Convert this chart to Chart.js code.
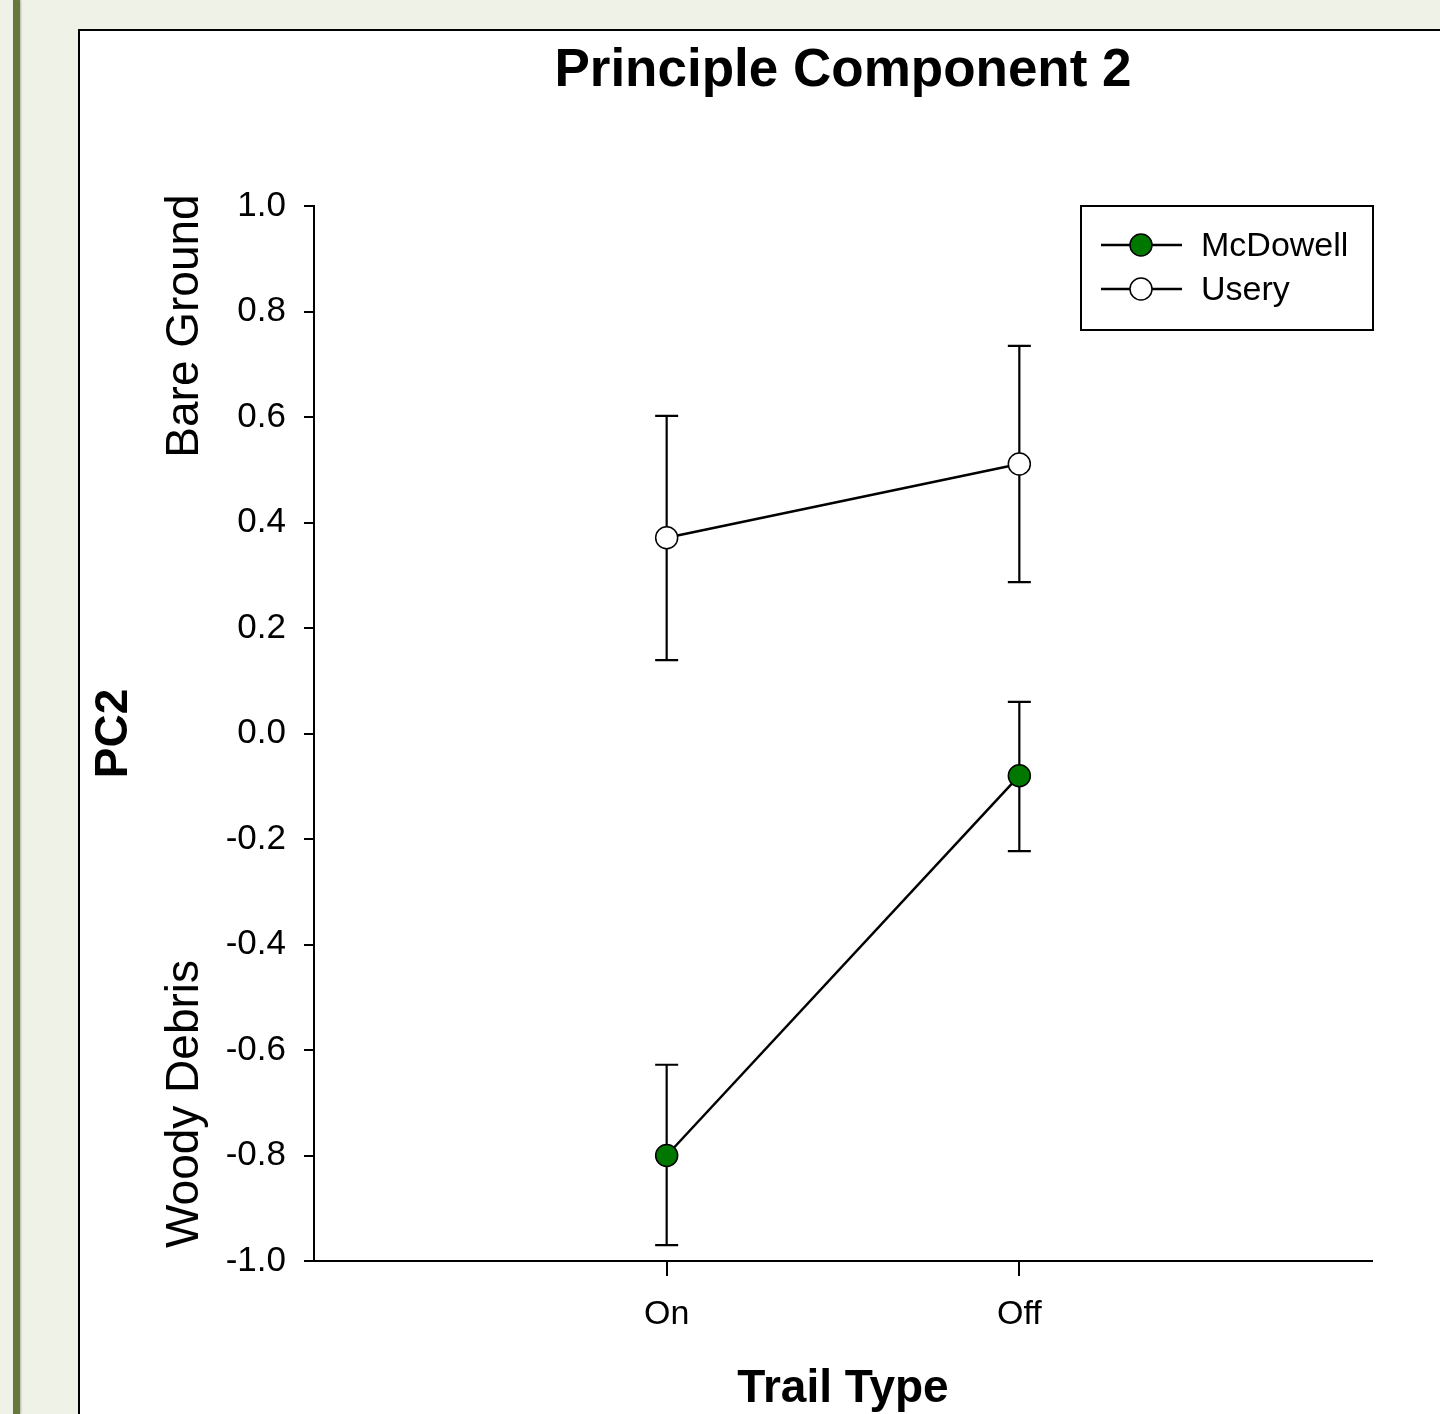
<!DOCTYPE html>
<html>
<head>
<meta charset="utf-8">
<script src="https://cdn.jsdelivr.net/npm/chart.js@4.4.1/dist/chart.umd.min.js"></script>
<style>
  html, body { margin: 0; padding: 0; width: 1440px; height: 1414px; overflow: hidden; background: #eef2e7; }
  #bar { position: absolute; left: 13px; top: 0; width: 7px; height: 1414px; background: #66793a; box-shadow: 1px 0 2px rgba(0,0,0,0.25); }
  #panel { position: absolute; left: 78px; top: 29px; width: 1400px; height: 1420px; background: #fff; border: 2px solid #000; }
  #wrap { position: absolute; left: 0; top: 0; width: 1440px; height: 1414px; }
</style>
</head>
<body>
<div id="bar"></div>
<div id="panel"></div>
<div id="wrap"><canvas id="c" width="1440" height="1414"></canvas></div>
<script>
const chartTitle = 'Principle Component 2';
const yTitle = 'PC2';
const xTitle = 'Trail Type';
const yUpperNote = 'Bare Ground';
const yLowerNote = 'Woody Debris';
const categories = ['On', 'Off'];
const seriesNames = ['McDowell', 'Usery'];
const mcdowellMean = [-0.80, -0.08];
const mcdowellUpper = [-0.628, 0.06];
const mcdowellLower = [-0.970, -0.223];
const useryMean = [0.371, 0.511];
const useryUpper = [0.602, 0.735];
const useryLower = [0.139, 0.287];
const yMin = -1.0, yMax = 1.0, yStep = 0.2;

const FONT = "'Liberation Sans', Arial, sans-serif";
const green = '#007800';

function pts(means) { return categories.map((c, i) => ({ x: i + 1, y: means[i] })); }

const errorBars = [
  { upper: mcdowellUpper, lower: mcdowellLower },
  { upper: useryUpper, lower: useryLower }
];

const extrasPlugin = {
  id: 'extras',
  beforeDatasetsDraw(chart) {
    const ctx = chart.ctx, xs = chart.scales.x, ys = chart.scales.y;
    ctx.save();
    ctx.strokeStyle = '#000';
    ctx.lineWidth = 2.2;
    errorBars.forEach(eb => {
      categories.forEach((c, i) => {
        const px = xs.getPixelForValue(i + 1);
        const pu = ys.getPixelForValue(eb.upper[i]);
        const pl = ys.getPixelForValue(eb.lower[i]);
        ctx.beginPath();
        ctx.moveTo(px, pu); ctx.lineTo(px, pl);
        ctx.moveTo(px - 11.5, pu); ctx.lineTo(px + 11.5, pu);
        ctx.moveTo(px - 11.5, pl); ctx.lineTo(px + 11.5, pl);
        ctx.stroke();
      });
    });
    ctx.restore();
  },
  afterDraw(chart) {
    const ctx = chart.ctx, area = chart.chartArea;
    ctx.save();
    // chart title
    ctx.fillStyle = '#000';
    ctx.font = 'bold 53px ' + FONT;
    ctx.textAlign = 'center';
    ctx.textBaseline = 'middle';
    ctx.fillText(chartTitle, (area.left + area.right) / 2, 71);
    // side notes
    ctx.font = '46px ' + FONT;
    ctx.save();
    ctx.translate(185, 326); ctx.rotate(-Math.PI / 2);
    ctx.fillText(yUpperNote, 0, 0);
    ctx.restore();
    ctx.save();
    ctx.translate(185, 1104); ctx.rotate(-Math.PI / 2);
    ctx.fillText(yLowerNote, 0, 0);
    ctx.restore();
    // legend
    ctx.lineWidth = 2;
    ctx.strokeStyle = '#000';
    ctx.strokeRect(1081, 206, 292, 124);
    chart.data.datasets.forEach((ds, i) => {
      const y = 245 + i * 44;
      ctx.beginPath();
      ctx.moveTo(1101, y); ctx.lineTo(1182, y);
      ctx.lineWidth = 2.5;
      ctx.stroke();
      ctx.beginPath();
      ctx.arc(1141, y, 11, 0, Math.PI * 2);
      ctx.fillStyle = ds.pointBackgroundColor;
      ctx.fill();
      ctx.lineWidth = 1.5;
      ctx.stroke();
      ctx.fillStyle = '#000';
      ctx.font = '34px ' + FONT;
      ctx.textAlign = 'left';
      ctx.textBaseline = 'middle';
      ctx.fillText(ds.label, 1201, y + 2);
    });
    ctx.restore();
  }
};

new Chart(document.getElementById('c'), {
  type: 'line',
  data: {
    datasets: [
      {
        label: seriesNames[0],
        data: pts(mcdowellMean),
        borderColor: '#000',
        borderWidth: 2.5,
        pointBackgroundColor: green,
        pointBorderColor: '#000',
        pointBorderWidth: 1.5,
        pointRadius: 11,
        pointHoverRadius: 11,
        fill: false,
        tension: 0
      },
      {
        label: seriesNames[1],
        data: pts(useryMean),
        borderColor: '#000',
        borderWidth: 2.5,
        pointBackgroundColor: '#ffffff',
        pointBorderColor: '#000',
        pointBorderWidth: 1.5,
        pointRadius: 11,
        pointHoverRadius: 11,
        fill: false,
        tension: 0
      }
    ]
  },
  options: {
    responsive: false,
    animation: false,
    events: [],
    layout: { padding: { top: 206, right: 68, bottom: 0, left: 0 } },
    plugins: {
      legend: { display: false },
      title: { display: false },
      tooltip: { enabled: false }
    },
    scales: {
      x: {
        type: 'linear',
        min: 0,
        max: 3,
        afterBuildTicks(axis) { axis.ticks = categories.map((c, i) => ({ value: i + 1 })); },
        afterFit(scale) { scale.height = 153; },
        ticks: {
          color: '#000',
          font: { family: FONT, size: 34 },
          padding: 18,
          maxRotation: 0,
          autoSkip: false,
          callback: (v) => categories[Math.round(v) - 1]
        },
        grid: { drawOnChartArea: false, drawTicks: true, tickLength: 15, color: '#000', lineWidth: 2 },
        border: { display: true, color: '#000', width: 2 },
        title: {
          display: true,
          text: xTitle,
          color: '#000',
          font: { family: FONT, size: 46, weight: 'bold' },
          padding: { top: 0, bottom: -3 }
        }
      },
      y: {
        type: 'linear',
        min: yMin,
        max: yMax,
        afterFit(scale) { scale.width = 314; },
        ticks: {
          stepSize: yStep,
          color: '#000',
          font: { family: FONT, size: 35 },
          padding: 18,
          callback: (v) => (Math.abs(v) < 1e-9 ? 0 : v).toFixed(1)
        },
        grid: { drawOnChartArea: false, drawTicks: true, tickLength: 10, color: '#000', lineWidth: 2 },
        border: { display: true, color: '#000', width: 2 },
        title: {
          display: true,
          text: yTitle,
          color: '#000',
          font: { family: FONT, size: 46, weight: 'bold' },
          padding: { top: 87, bottom: 0 }
        }
      }
    }
  },
  plugins: [extrasPlugin]
});
</script>
</body>
</html>
